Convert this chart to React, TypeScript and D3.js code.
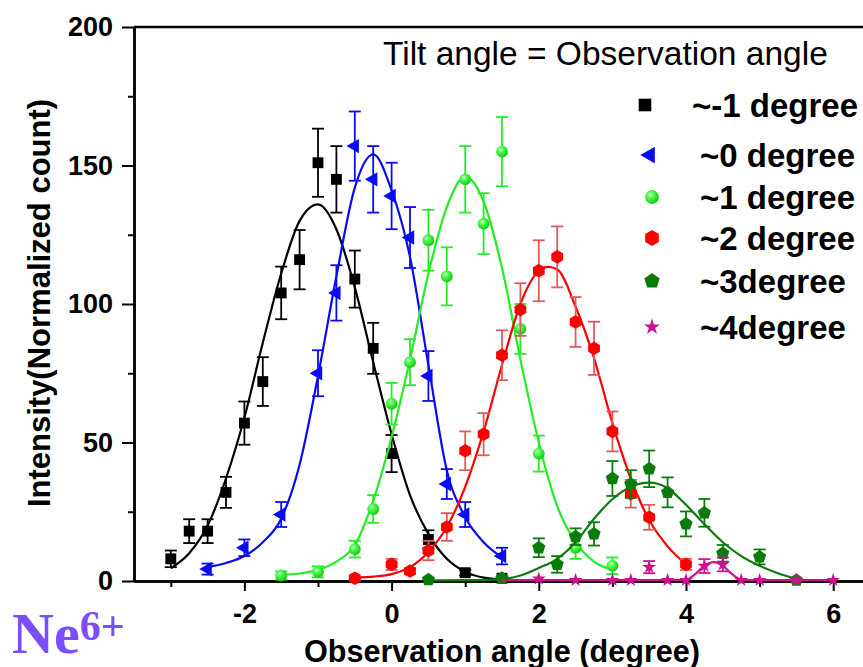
import React, { useEffect, useRef } from "react";
import * as d3 from "d3";

const W = 863;
const H = 667;

// ~-1 degree (black squares)
const xNeg1 = [-3, -2.75, -2.5, -2.25, -2, -1.75, -1.5, -1.25, -1, -0.75, -0.5, -0.25, 0, 0.5, 1, 1.5];
const yNeg1 = [8, 18, 18, 32, 57, 72, 104, 116, 151, 145, 109, 84, 46, 15, 3, 1];
const eNeg1 = [3, 4.3, 4.3, 5.6, 7.8, 8.8, 9.5, 10.7, 12.3, 12, 10.3, 9.2, 6.7, 3.3, 1, 0];
const fitXNeg1 = [-3, -2.75, -2.5, -2.25, -2, -1.75, -1.5, -1.25, -1, -0.75, -0.5, -0.25, 0, 0.25, 0.5, 0.75, 1, 1.25, 1.5];
const fitYNeg1 = [4.6, 10, 20, 37, 59, 86, 111, 130, 136, 127, 106, 79, 53, 31, 17, 8, 3.3, 1.2, 0.5];

// ~0 degree (blue triangles)
const x0 = [-2.5, -2, -1.5, -1, -0.75, -0.5, -0.25, 0, 0.25, 0.5, 0.75, 1, 1.5];
const y0 = [4.3, 12, 24, 75, 104, 157, 145, 139, 124, 74, 35, 24, 9];
const e0 = [2, 3, 4.5, 8.3, 10, 12.5, 12, 12, 11, 9, 5.4, 4.5, 3];
const fitX0 = [-2.5, -2.25, -2, -1.75, -1.5, -1.25, -1, -0.75, -0.5, -0.25, 0, 0.25, 0.5, 0.75, 1, 1.25, 1.5];
const fitY0 = [5, 6.5, 9, 14, 22.5, 42, 74, 110, 142, 154, 141, 117, 78, 40, 23, 14, 8.5];

// ~1 degree (green balls)
const x1 = [-1.5, -1, -0.5, -0.25, 0, 0.25, 0.5, 0.75, 1, 1.25, 1.5, 1.75, 2, 2.5, 3];
const y1 = [2, 3.3, 11.5, 26, 64, 79, 123, 110, 145, 129, 155, 91, 46, 12, 5.5];
const e1 = [1.5, 2, 3, 5, 7.5, 8.3, 11, 10.5, 12, 11, 12.5, 9, 6.5, 4, 3];
const fitX1 = [-1.5, -1.25, -1, -0.75, -0.5, -0.25, 0, 0.25, 0.5, 0.75, 1, 1.25, 1.5, 1.75, 2, 2.25, 2.5, 2.75, 3];
const fitY1 = [2.2, 2.7, 4, 7, 13, 29, 52, 80, 111, 135, 146, 137, 113, 80, 50, 27, 14, 7, 4];

// ~2 degree (red hexagons)
const x2 = [-0.5, 0, 0.25, 0.5, 0.75, 1, 1.25, 1.5, 1.75, 2, 2.25, 2.5, 2.75, 3, 3.25, 3.5, 4];
const y2 = [1, 6, 3.6, 11, 19.5, 47, 53, 81.5, 98, 112, 117, 93.5, 84, 54, 31.5, 23, 6];
const e2 = [0.5, 2, 1, 3.5, 5, 7, 7.6, 9, 9.5, 11, 11, 9, 9.6, 7.2, 5, 4.5, 2];
const fitX2 = [-0.5, -0.25, 0, 0.25, 0.5, 0.75, 1, 1.25, 1.5, 1.75, 2, 2.12, 2.25, 2.5, 2.75, 3, 3.25, 3.5, 3.75, 4];
const fitY2 = [1.2, 1.6, 2.5, 5, 10.5, 19.5, 34, 54, 78, 100, 112, 113.4, 112.5, 99, 80.5, 57, 37, 22, 12.5, 6];

// ~3degree (dark green pentagons)
const x3 = [0.5, 1.5, 2, 2.25, 2.5, 2.75, 3, 3.25, 3.5, 3.75, 4, 4.25, 4.5, 5, 5.5];
const y3 = [0.5, 1, 12, 6, 16, 17, 37, 35, 40.5, 32, 20.6, 24.6, 10, 8.7, 0.3];
const e3 = [0, 0, 3.4, 3, 3, 4.2, 6.3, 5, 6.6, 5.4, 4.5, 5, 3, 2.7, 0];
const fitX3 = [0.5, 1, 1.5, 1.75, 2, 2.25, 2.5, 2.75, 3, 3.25, 3.5, 3.75, 4, 4.25, 4.5, 4.75, 5, 5.25, 5.5];
const fitY3 = [0.2, 0.3, 0.7, 2, 4.7, 8, 14, 22.5, 29.5, 34, 35.5, 33.5, 27.5, 20.5, 14, 9, 5.5, 2.8, 0.7];

// ~4degree (magenta stars)
const x4 = [2, 2.5, 3, 3.25, 3.5, 3.75, 4, 4.25, 4.5, 4.75, 5, 5.5, 6];
const y4 = [0.8, 0.3, 0.3, 0.3, 5, 0.3, 0.3, 5.4, 6, 0.3, 0.3, 0.3, 0.3];
const e4 = [0, 0, 0, 0, 2.2, 0, 0, 2.5, 2.5, 0, 0, 0, 0];
const fitX4 = [1.5, 2, 3, 4, 4.125, 4.25, 4.375, 4.5, 4.625, 4.75, 5, 6];
const fitY4 = [0.3, 0.3, 0.3, 0.4, 2.5, 5.5, 6.8, 5.5, 2.5, 0.5, 0.3, 0.3];

const legendLabels = ["~-1 degree", "~0 degree", "~1 degree", "~2 degree", "~3degree", "~4degree"];
const xMajorTicks = [-2, 0, 2, 4, 6];
const xMinorTicks = [-3, -1, 1, 3, 5];
const yMajorTicks = [0, 50, 100, 150, 200];
const yMinorTicks = [25, 75, 125, 175];

// custom polygon symbol (hexagon / pentagon), size = area
const polygon = (n: number) => ({
  draw(ctx: any, size: number) {
    const r = Math.sqrt(size / ((n / 2) * Math.sin((2 * Math.PI) / n)));
    for (let i = 0; i < n; i++) {
      const a = -Math.PI / 2 + (i * 2 * Math.PI) / n;
      const px = r * Math.cos(a), py = r * Math.sin(a);
      if (i === 0) ctx.moveTo(px, py);
      else ctx.lineTo(px, py);
    }
    ctx.closePath();
  },
});

const series = [
  { label: legendLabels[0], color: "#000000", err: "#000000", type: d3.symbolSquare, size: 118, rot: 0, xs: xNeg1, ys: yNeg1, es: eNeg1, fx: fitXNeg1, fy: fitYNeg1 },
  { label: legendLabels[1], color: "#0a0af5", err: "#0a0af5", type: d3.symbolTriangle, size: 90, rot: -90, xs: x0, ys: y0, es: e0, fx: fitX0, fy: fitY0 },
  { label: legendLabels[2], color: "#22ee22", err: "#22ee22", type: d3.symbolCircle, size: 110, rot: 0, xs: x1, ys: y1, es: e1, fx: fitX1, fy: fitY1 },
  { label: legendLabels[3], color: "#ff0000", err: "#e45a5a", type: polygon(6), size: 120, rot: 0, xs: x2, ys: y2, es: e2, fx: fitX2, fy: fitY2 },
  { label: legendLabels[4], color: "#0b7c0b", err: "#0b7c0b", type: polygon(5), size: 115, rot: 0, xs: x3, ys: y3, es: e3, fx: fitX3, fy: fitY3 },
  { label: legendLabels[5], color: "#cc1190", err: "#cc1190", type: d3.symbolStar, size: 60, rot: 0, xs: x4, ys: y4, es: e4, fx: fitX4, fy: fitY4 },
];

export default function App() {
  const ref = useRef<SVGSVGElement>(null);

  useEffect(() => {
    const svg = d3.select(ref.current);
    svg.selectAll("*").remove();

    const x = d3.scaleLinear().domain([-3.5, 6.5]).range([134, 870]);
    const y = d3.scaleLinear().domain([0, 200]).range([581, 27]);

    const defs = svg.append("defs");
    const grad = defs.append("radialGradient").attr("id", "ball").attr("cx", "38%").attr("cy", "35%").attr("r", "65%");
    grad.append("stop").attr("offset", "0%").attr("stop-color", "#eaffea");
    grad.append("stop").attr("offset", "35%").attr("stop-color", "#4cff4c");
    grad.append("stop").attr("offset", "100%").attr("stop-color", "#14c814");

    const fillOf = (s: any) => (s.type === d3.symbolCircle ? "url(#ball)" : s.color);

    // axes
    const axisFont = "'Liberation Sans', Arial, sans-serif";
    const gx = svg.append("g").attr("transform", "translate(0,581)");
    gx.call(d3.axisBottom(x).tickValues(xMajorTicks).tickSize(10).tickSizeOuter(0).tickPadding(13).tickFormat((d: any) => String(d)));
    gx.append("g").call(d3.axisBottom(x).tickValues(xMinorTicks).tickSize(6).tickSizeOuter(0).tickFormat(() => ""));
    const gy = svg.append("g").attr("transform", "translate(134,0)");
    gy.call(d3.axisLeft(y).tickValues(yMajorTicks).tickSize(12).tickSizeOuter(0).tickPadding(9).tickFormat((d: any) => String(d)));
    gy.append("g").call(d3.axisLeft(y).tickValues(yMinorTicks).tickSize(6).tickSizeOuter(0).tickFormat(() => ""));
    svg.selectAll(".domain").attr("stroke", "#000").attr("stroke-width", 2.5);
    svg.selectAll(".tick line").attr("stroke", "#000").attr("stroke-width", 2);
    svg.selectAll(".tick text")
      .attr("fill", "#000")
      .style("font-family", axisFont)
      .style("font-size", "27px")
      .style("font-weight", "bold");

    // top frame line
    svg.append("line").attr("x1", 134).attr("x2", W).attr("y1", 27).attr("y2", 27).attr("stroke", "#000").attr("stroke-width", 2.5);

    series.forEach((s) => {
      const g = svg.append("g");
      const pts = s.fx.map((v, i) => [x(v), y(s.fy[i])] as [number, number]);
      g.append("path")
        .attr("d", d3.line().curve(d3.curveMonotoneX)(pts))
        .attr("fill", "none")
        .attr("stroke", s.color)
        .attr("stroke-width", 2.2);

      const data = s.xs.map((v, i) => ({ x: v, y: s.ys[i], e: s.es[i] }));
      const eb = g.selectAll("g.eb").data(data.filter((d) => d.e > 0)).enter().append("g")
        .attr("stroke", s.err).attr("stroke-width", 1.8);
      eb.append("line").attr("x1", (d) => x(d.x)).attr("x2", (d) => x(d.x)).attr("y1", (d) => y(d.y - d.e)).attr("y2", (d) => y(d.y + d.e));
      eb.append("line").attr("x1", (d) => x(d.x) - 6).attr("x2", (d) => x(d.x) + 6).attr("y1", (d) => y(d.y + d.e)).attr("y2", (d) => y(d.y + d.e));
      eb.append("line").attr("x1", (d) => x(d.x) - 6).attr("x2", (d) => x(d.x) + 6).attr("y1", (d) => y(d.y - d.e)).attr("y2", (d) => y(d.y - d.e));

      g.selectAll("path.mk").data(data).enter().append("path")
        .attr("d", d3.symbol().type(s.type as any).size(s.size)() as string)
        .attr("transform", (d) => `translate(${x(d.x)},${y(d.y)}) rotate(${s.rot})`)
        .attr("fill", fillOf(s));
    });

    // legend
    const lg = svg.append("g");
    lg.append("text")
      .attr("x", 383).attr("y", 65)
      .style("font-family", axisFont).style("font-size", "33.5px")
      .text("Tilt angle = Observation angle");
    const rowY = [105, 155, 197, 238, 281, 327];
    const markX = [645, 650, 652, 652, 652, 652];
    const textX = [692, 700, 700, 700, 700, 700];
    series.forEach((s, i) => {
      lg.append("path")
        .attr("d", d3.symbol().type(s.type as any).size(s.size * 1.35)() as string)
        .attr("transform", `translate(${markX[i]},${rowY[i]}) rotate(${s.rot})`)
        .attr("fill", fillOf(s));
      lg.append("text")
        .attr("x", textX[i]).attr("y", rowY[i] + 11.5)
        .style("font-family", axisFont).style("font-size", "33px").style("font-weight", "bold")
        .text(s.label);
    });

    // axis titles
    svg.append("text")
      .attr("x", 502).attr("y", 662).attr("text-anchor", "middle")
      .style("font-family", axisFont).style("font-size", "30.6px").style("font-weight", "bold")
      .text("Observation angle (degree)");
    svg.append("text")
      .attr("transform", "translate(50,303) rotate(-90)").attr("text-anchor", "middle")
      .style("font-family", axisFont).style("font-size", "31px").style("font-weight", "bold")
      .text("Intensity(Normalized count)");

    // ion label
    const ne = svg.append("text")
      .attr("x", 12).attr("y", 653)
      .attr("fill", "#7b4dff")
      .style("font-family", "'Liberation Serif', 'Times New Roman', serif")
      .style("font-weight", "bold")
      .style("font-size", "58px");
    ne.append("tspan").text("Ne");
    ne.append("tspan").attr("dy", -13).style("font-size", "42px").text("6+");
  }, []);

  return (
    <div style={{ position: "absolute", left: 0, top: 0 }}>
      <svg ref={ref} width={W} height={H} style={{ display: "block", background: "#fff" }} />
    </div>
  );
}
